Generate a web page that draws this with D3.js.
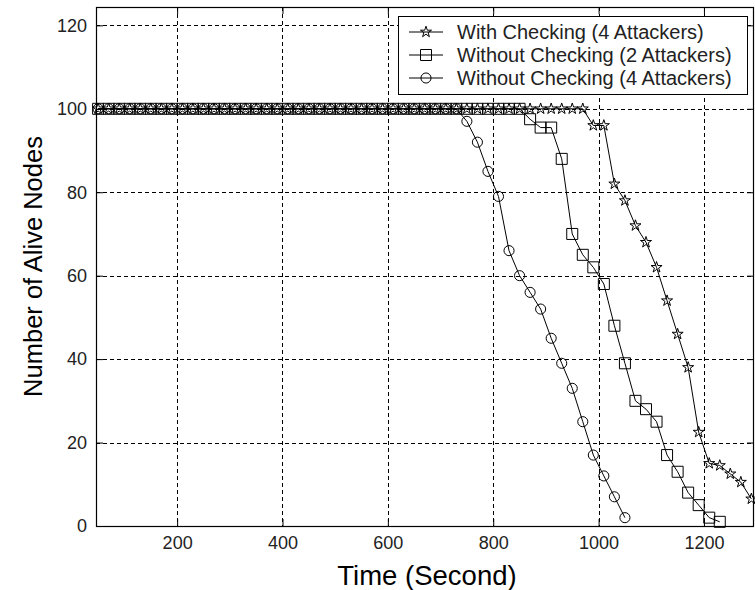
<!DOCTYPE html>
<html>
<head>
<meta charset="utf-8">
<script src="https://cdn.jsdelivr.net/npm/d3@7"></script>
<style>
  html, body { margin: 0; padding: 0; background: #fff; }
  svg { display: block; font-family: "Liberation Sans", Arial, sans-serif; }
</style>
</head>
<body>
<svg id="chart" width="755" height="590"></svg>
<script>
// ---------------- data ----------------
const times = [50,70,90,110,130,150,170,190,210,230,250,270,290,310,330,350,370,390,410,430,
  450,470,490,510,530,550,570,590,610,630,650,670,690,710,730,750,770,790,810,830,
  850,870,890,910,930,950,970,990,1010,1030,1050,1070,1090,1110,1130,1150,1170,1190,1210,1230,
  1250,1270,1290];

const withChecking4 = [100,100,100,100,100,100,100,100,100,100,100,100,100,100,100,100,100,100,100,100,
  100,100,100,100,100,100,100,100,100,100,100,100,100,100,100,100,100,100,100,100,
  100,100,100,100,100,100,100,96,96,82,78,72,68,62,54,46,38,22.5,15,14.5,
  12.5,10.5,6.5];

const withoutChecking2 = [100,100,100,100,100,100,100,100,100,100,100,100,100,100,100,100,100,100,100,100,
  100,100,100,100,100,100,100,100,100,100,100,100,100,100,100,100,100,100,100,100,
  100,97.5,95.5,95.5,88,70,65,62,58,48,39,30,28,25,17,13,8,5,2,1];

const withoutChecking4 = [100,100,100,100,100,100,100,100,100,100,100,100,100,100,100,100,100,100,100,100,
  100,100,100,100,100,100,100,100,100,100,100,100,100,100,100,97,92,85,79,66,
  60,56,52,45,39,33,25,17,12,7,2];

const seriesNames = ["With Checking (4 Attackers)", "Without Checking (2 Attackers)", "Without Checking (4 Attackers)"];
const seriesMarkers = ["star", "square", "circle"];
const xTicks = [200, 400, 600, 800, 1000, 1200];
const yTicks = [0, 20, 40, 60, 80, 100, 120];
const xLabel = "Time (Second)";
const yLabel = "Number of Alive Nodes";

// ---------------- layout ----------------
const svg = d3.select("#chart");
const L = 96, R = 754, T = 7, B = 526;
const x = d3.scaleLinear().domain([46, 1295]).range([L, R]);
const y = d3.scaleLinear().domain([0, 124.4]).range([B, T]);

svg.append("rect").attr("width", 755).attr("height", 590).attr("fill", "#fff");

// grid
const grid = svg.append("g").attr("stroke", "#000").attr("stroke-width", 1)
  .attr("stroke-dasharray", "4,3").attr("fill", "none");
grid.selectAll("line.gx").data(xTicks).join("line").attr("class", "gx")
  .attr("x1", d => Math.round(x(d)) + 0.5).attr("x2", d => Math.round(x(d)) + 0.5)
  .attr("y1", T).attr("y2", B);
grid.selectAll("line.gy").data(yTicks.filter(d => d > 0)).join("line").attr("class", "gy")
  .attr("y1", d => Math.round(y(d)) + 0.5).attr("y2", d => Math.round(y(d)) + 0.5)
  .attr("x1", L).attr("x2", R);

// axes
const tickLen = 7;
const fmt = d3.format("d");
const axB = svg.append("g").attr("transform", `translate(0,${B})`)
  .call(d3.axisBottom(x).tickValues(xTicks).tickFormat(fmt).tickSizeInner(-tickLen).tickSizeOuter(0).tickPadding(10));
const axT = svg.append("g").attr("transform", `translate(0,${T})`)
  .call(d3.axisTop(x).tickValues(xTicks).tickFormat("").tickSizeInner(-tickLen).tickSizeOuter(0));
const axLft = svg.append("g").attr("transform", `translate(${L},0)`)
  .call(d3.axisLeft(y).tickValues(yTicks).tickFormat(fmt).tickSizeInner(-tickLen).tickSizeOuter(0).tickPadding(9));
const axRgt = svg.append("g").attr("transform", `translate(${R},0)`)
  .call(d3.axisRight(y).tickValues(yTicks).tickFormat("").tickSizeInner(-tickLen).tickSizeOuter(0));
[axB, axT, axLft, axRgt].forEach(a => {
  a.select(".domain").remove();
  a.selectAll(".tick line").attr("stroke", "#000");
  a.selectAll("text").attr("font-size", 18).attr("fill", "#222")
    .attr("font-family", "'Liberation Sans', Arial, sans-serif");
});

// series
const seriesData = [withChecking4, withoutChecking2, withoutChecking4];
const symbolFor = {
  star: d3.symbol().type(d3.symbolStar).size(38),
  square: d3.symbol().type(d3.symbolSquare).size(121),
  circle: d3.symbol().type(d3.symbolCircle).size(80)
};
const line = d3.line().x(d => x(d[0])).y(d => y(d[1]));

seriesData.forEach((vals, i) => {
  const pts = vals.map((v, k) => [times[k], v]);
  svg.append("path").datum(pts).attr("d", line)
    .attr("fill", "none").attr("stroke", "#000").attr("stroke-width", 1);
  svg.append("g").selectAll("path").data(pts).join("path")
    .attr("transform", d => `translate(${x(d[0])},${y(d[1])})`)
    .attr("d", symbolFor[seriesMarkers[i]])
    .attr("fill", "none").attr("stroke", "#000").attr("stroke-width", 1);
});

// frame
svg.append("rect").attr("x", L + 0.5).attr("y", T + 0.5)
  .attr("width", R - L - 1).attr("height", B - T)
  .attr("fill", "none").attr("stroke", "#000").attr("stroke-width", 1.2);

// axis titles
svg.append("text").attr("x", (L + R) / 2 + 2).attr("y", 585).attr("text-anchor", "middle")
  .attr("font-size", 27.5).attr("fill", "#000").text(xLabel);
svg.append("text").attr("transform", `translate(42,${(T + B) / 2}) rotate(-90)`)
  .attr("text-anchor", "middle").attr("font-size", 25.5).attr("fill", "#000").text(yLabel);

// legend
const lg = svg.append("g");
lg.append("rect").attr("x", 398.5).attr("y", 16.5).attr("width", 349).attr("height", 78)
  .attr("fill", "#fff").attr("stroke", "#000").attr("stroke-width", 1);
const rowY = [32, 55, 78];
seriesNames.forEach((name, i) => {
  const yy = rowY[i];
  lg.append("line").attr("x1", 409).attr("x2", 443).attr("y1", yy).attr("y2", yy)
    .attr("stroke", "#000").attr("stroke-width", 1);
  lg.append("path").attr("transform", `translate(426,${yy})`).attr("d", symbolFor[seriesMarkers[i]])
    .attr("fill", "none").attr("stroke", "#000").attr("stroke-width", 1);
  lg.append("text").attr("x", 457).attr("y", yy + 7).attr("font-size", 20).attr("fill", "#222")
    .text(name);
});
</script>
</body>
</html>
